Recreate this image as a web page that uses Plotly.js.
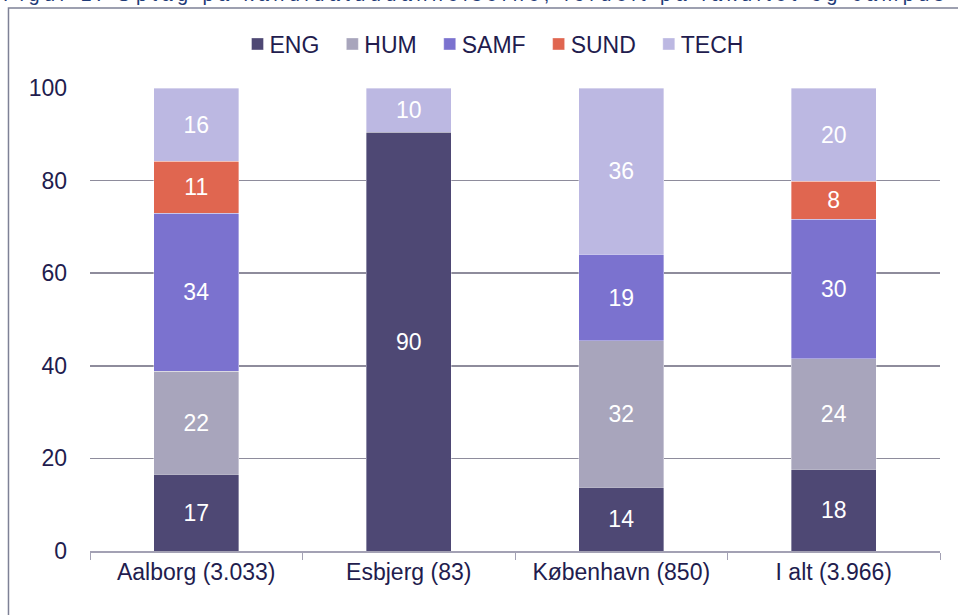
<!DOCTYPE html>
<html>
<head>
<meta charset="utf-8">
<script src="https://cdn.plot.ly/plotly-3.0.1.min.js"></script>
<style>
html,body{margin:0;padding:0;background:#fff;}
#chart{width:958px;height:615px;}
g.annotation text{letter-spacing:4.4px;}
g.legend text.legendtext{transform:translateX(-8px);}
</style>
</head>
<body>
<div id="chart"></div>
<script>
const categories = ["Aalborg (3.033)", "Esbjerg (83)", "København (850)", "I alt (3.966)"];
const seriesNames = ["ENG", "HUM", "SAMF", "SUND", "TECH"];
const ENG  = [16.6, 90.4, 13.8, 17.7];
const HUM  = [22.2, null, 31.6, 23.8];
const SAMF = [34.2, null, 18.7, 30.2];
const SUND = [11.2, null, null, 8.2];
const TECH = [15.8, 9.6, 35.9, 20.1];
const titleText = "Figur 1: Optag på kandidatuddannelserne, fordelt på fakultet og campus";

const values = [ENG, HUM, SAMF, SUND, TECH];
const colors = ["#4e4874", "#a8a5bc", "#7b72cf", "#e06650", "#bcb8e2"];

const traces = seriesNames.map((name, i) => ({
  type: "bar",
  name: name,
  x: categories,
  y: values[i],
  marker: {color: colors[i], line: {color: "rgba(255,255,255,0.6)", width: 0.6}},
  texttemplate: "%{y:.0f}",
  textposition: "inside",
  insidetextanchor: "middle",
  textfont: {family: "Liberation Sans, Arial, sans-serif", size: 23, color: "#ffffff"},
  constraintext: "none",
  hoverinfo: "skip"
}));

const navy = "#221c4e";
const layout = {
  width: 958, height: 615,
  margin: {l: 90, r: 18, t: 88, b: 64},
  paper_bgcolor: "#ffffff",
  plot_bgcolor: "#ffffff",
  barmode: "stack",
  bargap: 0.6,
  font: {family: "Liberation Sans, Arial, sans-serif", size: 23, color: navy},
  showlegend: true,
  legend: {
    orientation: "h", xref: "container", x: 497 / 958, xanchor: "center",
    yref: "container", y: 1 - 44 / 615, yanchor: "middle",
    font: {size: 23, color: navy}, itemwidth: 30, traceorder: "normal",
    bgcolor: "rgba(0,0,0,0)"
  },
  xaxis: {
    type: "category",
    showgrid: false,
    showline: true, linecolor: "#a3a1b4", linewidth: 1.5,
    ticks: "outside", tickson: "boundaries", ticklen: 7, tickcolor: "#a3a1b4",
    tickfont: {size: 23, color: navy},
    zeroline: false
  },
  yaxis: {
    range: [0, 100],
    tickvals: [0, 20, 40, 60, 80, 100],
    showgrid: true, gridcolor: "#8e8c9c", gridwidth: 1.5,
    zeroline: false, showline: false,
    ticks: "", ticklabelstandoff: 22,
    tickfont: {size: 23, color: navy}
  },
  shapes: [{
    type: "rect", xref: "paper", yref: "paper",
    x0: -0.0959, x1: 1.1, y0: -0.3, y1: 1.1728,
    line: {color: "#7e8196", width: 1.5}, fillcolor: "rgba(0,0,0,0)", layer: "below"
  }],
  annotations: [{
    text: titleText, xref: "paper", yref: "paper",
    x: 0.454, xanchor: "center", y: 1.203, yanchor: "middle",
    showarrow: false, font: {size: 20, color: "#1f3b78"}
  }]
};

Plotly.newPlot("chart", traces, layout, {displayModeBar: false, staticPlot: true});
</script>
</body>
</html>
